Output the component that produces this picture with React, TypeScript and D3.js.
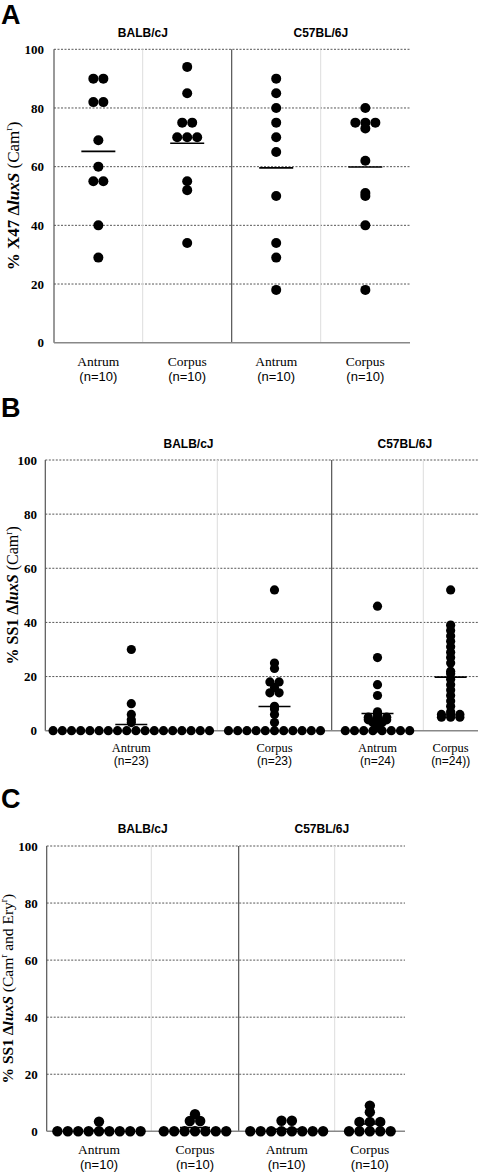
import React from "react";
import * as d3 from "d3";

// ---------- data ----------
const yTicks = [0, 20, 40, 60, 80, 100];
const strains = ["BALB/cJ", "C57BL/6J"];
const sites = ["Antrum", "Corpus", "Antrum", "Corpus"];

const nLabelsA = ["(n=10)", "(n=10)", "(n=10)", "(n=10)"];
const nLabelsB = ["(n=23)", "(n=23)", "(n=24)", "(n=24))"];
const nLabelsC = ["(n=10)", "(n=10)", "(n=10)", "(n=10)"];

// Panel A: % X47 ΔluxS (Cam r)
const aBalbAntrum = [90, 90, 82, 82, 69, 60, 55, 55, 40, 29];
const aBalbCorpus = [94, 85, 75, 75, 70, 70, 70, 55, 52, 34];
const aC57Antrum = [90, 85, 80, 75, 70, 65, 50, 34, 29, 18];
const aC57Corpus = [80, 75, 75, 75, 73, 62, 51, 50, 40, 18];

// Panel B: % SS1 ΔluxS (Cam r)
const bBalbAntrum = [
  0, 0, 0, 0, 0, 0, 0, 0, 0, 0, 0, 0, 0, 0, 0, 0, 0, 0, 3, 4, 6, 10, 30,
];
const bBalbCorpus = [
  0, 0, 0, 0, 0, 0, 0, 0, 0, 0, 0, 3, 6, 8, 9, 14, 14, 16, 18, 18, 23, 25, 52,
];
const bC57Antrum = [
  0, 0, 0, 0, 0, 0, 0, 0, 1, 2, 3, 3, 4, 4, 4, 5, 5, 5, 6, 7, 13, 17, 27, 46,
];
const bC57Corpus = [
  5, 5, 5, 6, 6, 6, 7, 9, 11, 13, 15, 17, 19, 21, 22, 25, 27, 29, 31, 33, 35, 37, 39, 52,
];

// Panel C: % SS1 ΔluxS (Cam r and Ery r)
const cBalbAntrum = [0, 0, 0, 0, 0, 0, 0, 0, 0, 3.4];
const cBalbCorpus = [0, 0, 0, 0, 0, 0, 0, 3.6, 3.6, 6];
const cC57Antrum = [0, 0, 0, 0, 0, 0, 0, 0, 3.7, 3.7];
const cC57Corpus = [0, 0, 0, 0, 0, 3.3, 3.3, 3.3, 6.7, 9];

// ---------- layout ----------
const serif = "'Liberation Serif', 'Times New Roman', serif";
const sans = "'Liberation Sans', Arial, sans-serif";

type Panel = {
  letter: string;
  letterY: number;
  top: number;
  bottom: number;
  bounds: number[];
  r: number;
  meanHalf: number;
  series: number[][];
  nLabels: string[];
  titleMain: string;
  titleTail: { text: string; sup?: boolean }[];
  titleX: number;
  titleSize: number;
  tickRight: number;
  headerY: number;
  siteY: number;
  nY: number;
  labelSize: number;
};

const panels: Panel[] = [
  {
    letter: "A",
    letterY: 24,
    top: 49.3,
    bottom: 342.7,
    bounds: [54, 142.7, 231.7, 320.7, 410],
    r: 5,
    meanHalf: 17,
    series: [aBalbAntrum, aBalbCorpus, aC57Antrum, aC57Corpus],
    nLabels: nLabelsA,
    titleMain: "% X47 ",
    titleTail: [{ text: " (Cam" }, { text: "r", sup: true }, { text: ")" }],
    titleX: 19,
    titleSize: 17,
    tickRight: 44,
    headerY: 37,
    siteY: 366,
    nY: 381,
    labelSize: 13.5,
  },
  {
    letter: "B",
    letterY: 417,
    top: 460,
    bottom: 730.7,
    bounds: [45.3, 217.3, 331.7, 423.3, 478],
    r: 4.6,
    meanHalf: 16,
    series: [bBalbAntrum, bBalbCorpus, bC57Antrum, bC57Corpus],
    nLabels: nLabelsB,
    titleMain: "% SS1 ",
    titleTail: [{ text: " (Cam" }, { text: "r", sup: true }, { text: ")" }],
    titleX: 18,
    titleSize: 16,
    tickRight: 37,
    headerY: 448,
    siteY: 751.5,
    nY: 765,
    labelSize: 12.5,
  },
  {
    letter: "C",
    letterY: 808,
    top: 846,
    bottom: 1131.3,
    bounds: [46.7, 151.3, 238.7, 334.7, 405],
    r: 5.2,
    meanHalf: 15,
    series: [cBalbAntrum, cBalbCorpus, cC57Antrum, cC57Corpus],
    nLabels: nLabelsC,
    titleMain: "% SS1 ",
    titleTail: [
      { text: " (Cam" },
      { text: "r", sup: true },
      { text: " and Ery" },
      { text: "r", sup: true },
      { text: ")" },
    ],
    titleX: 13,
    titleSize: 15.5,
    tickRight: 37.7,
    headerY: 833,
    siteY: 1154,
    nY: 1169,
    labelSize: 13.5,
  },
];

function swarm(values: number[], cx: number, r: number, y: d3.ScaleLinear<number, number>) {
  const groups = d3.group(values, (v) => v);
  const pts: { x: number; y: number }[] = [];
  for (const [v, arr] of groups) {
    const k = arr.length;
    arr.forEach((_, i) => pts.push({ x: cx + (i - (k - 1) / 2) * 2 * r, y: y(v) }));
  }
  return pts;
}

function PanelView({ p }: { p: Panel }) {
  const y = d3.scaleLinear().domain([0, 100]).range([p.bottom, p.top]);
  const left = p.bounds[0];
  const right = p.bounds[4];
  const centers = sites.map((_, i) => (p.bounds[i] + p.bounds[i + 1]) / 2);
  const groupCenters = [(p.bounds[0] + p.bounds[2]) / 2, (p.bounds[2] + p.bounds[4]) / 2];
  const midY = (p.top + p.bottom) / 2;
  return (
    <g>
      <text x={1} y={p.letterY} fontFamily={sans} fontWeight="bold" fontSize={27}>
        {p.letter}
      </text>
      {/* gridlines */}
      {yTicks
        .filter((t) => t > 0)
        .map((t) => (
          <line
            key={t}
            x1={left}
            x2={right}
            y1={y(t)}
            y2={y(t)}
            stroke="#444"
            strokeWidth={0.9}
            strokeDasharray="2,1.5"
          />
        ))}
      {/* dividers */}
      <line x1={p.bounds[1]} x2={p.bounds[1]} y1={p.top} y2={p.bottom} stroke="#ddd" strokeWidth={1} />
      <line x1={p.bounds[3]} x2={p.bounds[3]} y1={p.top} y2={p.bottom} stroke="#ddd" strokeWidth={1} />
      <line x1={p.bounds[2]} x2={p.bounds[2]} y1={p.top} y2={p.bottom} stroke="#444" strokeWidth={1.1} />
      {/* axes */}
      <line x1={left} x2={left} y1={p.top} y2={p.bottom} stroke="#555" strokeWidth={1.2} />
      <line x1={left} x2={right} y1={p.bottom} y2={p.bottom} stroke="#888" strokeWidth={1.5} />
      {yTicks.map((t) => (
        <text
          key={t}
          x={p.tickRight}
          y={y(t)}
          dy="0.35em"
          textAnchor="end"
          fontFamily={serif}
          fontWeight="bold"
          fontSize={13}
        >
          {t}
        </text>
      ))}
      {/* y title */}
      <text
        transform={`translate(${p.titleX},${midY}) rotate(-90)`}
        textAnchor="middle"
        fontFamily={serif}
        fontSize={p.titleSize}
      >
        <tspan fontWeight="bold">{p.titleMain}Δ</tspan>
        <tspan fontWeight="bold" fontStyle="italic">luxS</tspan>
        {p.titleTail.map((s, i) =>
          s.sup ? (
            <tspan key={i} fontSize={p.titleSize * 0.6} dy={-p.titleSize * 0.4}>
              {s.text}
            </tspan>
          ) : (
            <tspan key={i} dy={i > 0 && p.titleTail[i - 1].sup ? p.titleSize * 0.4 : 0}>
              {s.text}
            </tspan>
          )
        )}
      </text>
      {/* strain headers */}
      {strains.map((s, i) => (
        <text
          key={s}
          x={groupCenters[i]}
          y={p.headerY}
          textAnchor="middle"
          fontFamily={sans}
          fontWeight="bold"
          fontSize={12}
        >
          {s}
        </text>
      ))}
      {/* category labels */}
      {sites.map((s, i) => (
        <g key={i}>
          <text x={centers[i]} y={p.siteY} textAnchor="middle" fontFamily={serif} fontSize={p.labelSize}>
            {s}
          </text>
          <text x={centers[i]} y={p.nY} textAnchor="middle" fontFamily={sans} fontSize={p.labelSize - 0.5}>
            {p.nLabels[i]}
          </text>
        </g>
      ))}
      {/* dots */}
      {p.series.map((vals, i) =>
        swarm(vals, centers[i], p.r, y).map((pt, j) => (
          <circle key={`${i}-${j}`} cx={pt.x} cy={pt.y} r={p.r} fill="#000" />
        ))
      )}
      {/* mean lines */}
      {p.series.map((vals, i) => {
        const m = d3.mean(vals) ?? 0;
        return (
          <line
            key={`m${i}`}
            x1={centers[i] - p.meanHalf}
            x2={centers[i] + p.meanHalf}
            y1={y(m)}
            y2={y(m)}
            stroke="#000"
            strokeWidth={1.6}
          />
        );
      })}
    </g>
  );
}

export default function App() {
  return (
    <svg
      width={480}
      height={1172}
      style={{ position: "absolute", left: 0, top: 0, background: "#fff" }}
    >
      <rect width={480} height={1172} fill="#fff" />
      {panels.map((p) => (
        <PanelView key={p.letter} p={p} />
      ))}
    </svg>
  );
}
